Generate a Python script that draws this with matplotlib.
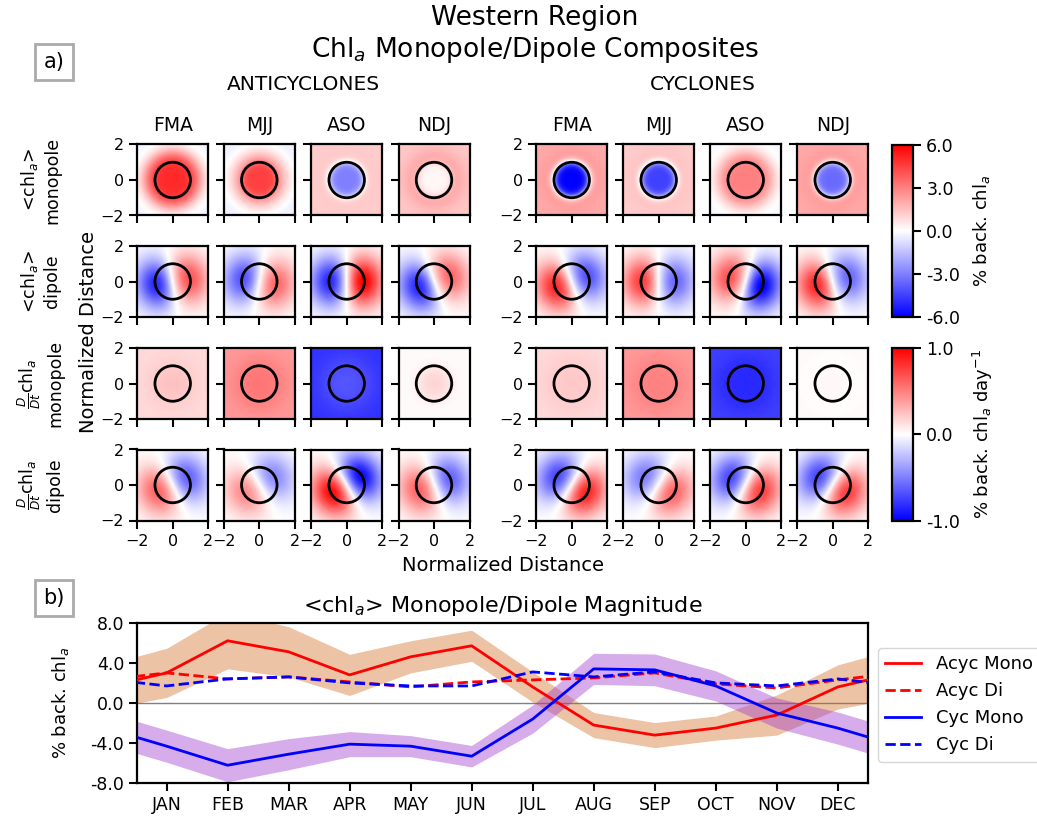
import numpy as np
import matplotlib
matplotlib.use("Agg")
import matplotlib.pyplot as plt
from matplotlib.cm import ScalarMappable
from matplotlib.colors import Normalize

W, H = 1037, 821

SEASONS = ["FMA", "MJJ", "ASO", "NDJ"]
GROUPS = ["ANTICYCLONES", "CYCLONES"]

# <chl_a> monopole: value inside eddy, just outside, far corners  [anticyclones, cyclones]
CHL_MONO_IN = [[5.0, 4.5, -3.0, 0.2], [-6.0, -4.5, 3.0, -3.5]]
CHL_MONO_OUT = [[4.0, 2.0, 1.3, 2.2], [2.5, 1.5, 2.5, 2.5]]
CHL_MONO_CORNER = [[-0.3, -0.4, 1.2, 1.3], [2.0, 1.2, -0.2, 2.0]]

# <chl_a> dipole: positive lobe, negative lobe, direction of positive lobe (deg)
CHL_DI_POS = [[4.0, 3.5, 6.0, 3.5], [5.0, 4.5, 4.0, 5.0]]
CHL_DI_NEG = [[-5.0, -4.0, -5.0, -5.0], [-4.0, -3.5, -6.0, -3.5]]
CHL_DI_ANGLE = [[10, -10, 0, 20], [200, 180, 165, 195]]

# D/Dt chl_a monopole
DDT_MONO_IN = [[0.25, 0.55, -0.65, 0.18], [0.22, 0.5, -0.85, 0.03]]
DDT_MONO_OUT = [[0.15, 0.45, -0.75, -0.03], [0.18, 0.45, -0.8, 0.0]]
DDT_MONO_CORNER = [[0.15, 0.4, -0.8, 0.02], [0.15, 0.4, -0.75, 0.02]]

# D/Dt chl_a dipole
DDT_DI_POS = [[0.6, 0.45, 0.95, 0.6], [0.85, 0.6, 0.75, 0.75]]
DDT_DI_NEG = [[-0.6, -0.45, -0.95, -0.6], [-0.7, -0.5, -0.7, -0.7]]
DDT_DI_ANGLE = [[205, 210, 210, 200], [-30, -30, -25, -30]]

ROW_LABELS = [
    "<chl$_a$>\nmonopole",
    "<chl$_a$>\ndipole",
    r"$\frac{D}{Dt}$chl$_a$" + "\nmonopole",
    r"$\frac{D}{Dt}$chl$_a$" + "\ndipole",
]

MONTHS = ["JAN", "FEB", "MAR", "APR", "MAY", "JUN",
          "JUL", "AUG", "SEP", "OCT", "NOV", "DEC"]
ACYC_MONO = [3.0, 6.2, 5.1, 2.8, 4.6, 5.7, 1.6, -2.2, -3.2, -2.5, -1.2, 1.6]
ACYC_MONO_ERR = [2.45, 2.8, 2.5, 2.05, 1.6, 1.55, 1.5, 1.25, 1.25, 1.2, 2.0, 2.2]
ACYC_DI = [3.0, 2.4, 2.6, 2.1, 1.6, 2.1, 2.3, 2.5, 3.0, 1.9, 1.5, 2.3]
CYC_MONO = [-4.3, -6.2, -5.1, -4.1, -4.3, -5.3, -1.6, 3.4, 3.3, 1.7, -1.0, -2.5]
CYC_MONO_ERR = [1.6, 1.65, 1.55, 1.25, 1.05, 1.07, 1.4, 1.55, 1.58, 1.5, 1.5, 1.6]
CYC_DI = [1.7, 2.4, 2.6, 2.0, 1.7, 1.7, 3.1, 2.6, 3.1, 2.0, 1.7, 2.4]

plt.rcParams.update({
    "font.family": "DejaVu Sans",
    "font.size": 12,
    "axes.linewidth": 1.6,
    "xtick.major.size": 6,
    "ytick.major.size": 6,
    "xtick.major.width": 1.5,
    "ytick.major.width": 1.5,
})

grid = np.linspace(-2, 2, 41)
gx, gy = np.meshgrid(grid, grid)
rr = np.hypot(gx, gy)
tt = np.arctan2(gy, gx)


def monopole(inner, outer, corner, edge):
    s = 1.0 / (1.0 + np.exp((rr - 1.0) / edge))
    ring = np.exp(-((rr - 1.0) / 0.8) ** 2)
    return inner * s + (1 - s) * (outer * ring + corner * (1 - ring))


def dipole(pos, neg, angle):
    g = rr * np.exp((1 - rr ** 2) / 2)
    c = np.cos(tt - np.deg2rad(angle))
    return g * c * np.where(c > 0, pos, -neg)


def px_axes(fig, x0, y0, w, h):
    return fig.add_axes([x0 / W, 1 - (y0 + h) / H, w / W, h / H])


fig = plt.figure(figsize=(W / 100, H / 100), dpi=100)

col_left = [[137.2, 223.8, 311.2, 398.5], [536.2, 623.2, 710.2, 797.2]]
row_top = [144.5, 246.0, 348.0, 449.5]
size = 71

for g in range(2):
    for c in range(4):
        fields = [
            (monopole(CHL_MONO_IN[g][c], CHL_MONO_OUT[g][c], CHL_MONO_CORNER[g][c], 0.12), 6),
            (dipole(CHL_DI_POS[g][c], CHL_DI_NEG[g][c], CHL_DI_ANGLE[g][c]), 6),
            (monopole(DDT_MONO_IN[g][c], DDT_MONO_OUT[g][c], DDT_MONO_CORNER[g][c], 0.35), 1),
            (dipole(DDT_DI_POS[g][c], DDT_DI_NEG[g][c], DDT_DI_ANGLE[g][c]), 1),
        ]
        for r, (field, lim) in enumerate(fields):
            ax = px_axes(fig, col_left[g][c], row_top[r], size, size)
            ax.imshow(field, origin="lower", extent=[-2, 2, -2, 2], cmap="bwr",
                      vmin=-lim, vmax=lim, interpolation="bilinear")
            ax.add_patch(plt.Circle((0, 0), 1, fill=False, color="black", lw=2))
            ax.set_xlim(-2, 2)
            ax.set_ylim(-2, 2)
            ax.set_xticks([-2, 0, 2])
            ax.set_yticks([-2, 0, 2])
            ax.tick_params(labelsize=11.5)
            if r < 3:
                ax.set_xticklabels([])
            if c > 0:
                ax.set_yticklabels([])
            if r == 0:
                ax.set_title(SEASONS[c], fontsize=13.5, pad=10)

for r in range(4):
    fig.text(40 / W, 1 - (row_top[r] + size / 2) / H, ROW_LABELS[r], rotation=90,
             ha="center", va="center", fontsize=12.5, multialignment="center")

fig.text(303.5 / W, 1 - 85 / H, GROUPS[0], ha="center", va="center", fontsize=14.5)
fig.text(702.5 / W, 1 - 85 / H, GROUPS[1], ha="center", va="center", fontsize=14.5)
fig.text(535 / W, 1 - 35 / H, "Western Region\nChl$_a$ Monopole/Dipole Composites",
         ha="center", va="center", fontsize=19, linespacing=1.2)
fig.text(89 / W, 1 - 332 / H, "Normalized Distance", rotation=90, ha="center",
         va="center", fontsize=14)
fig.text(503 / W, 1 - 565 / H, "Normalized Distance", ha="center", va="center",
         fontsize=14)

for top, lim, label in [(144.5, 6, "% back. chl$_a$"),
                        (348.0, 1, "% back. chl$_a$ day$^{-1}$")]:
    cax = px_axes(fig, 892, top, 21, 172.5)
    cb = fig.colorbar(ScalarMappable(Normalize(-lim, lim), cmap="bwr"), cax=cax)
    ticks = np.linspace(-lim, lim, 5) if lim == 6 else np.array([-1.0, 0.0, 1.0])
    cb.set_ticks(ticks)
    cb.set_ticklabels([f"{t:.1f}" for t in ticks])
    cb.outline.set_linewidth(1.6)
    cax.tick_params(labelsize=12.5)
    cb.set_label(label, fontsize=13, labelpad=8)

box = dict(boxstyle="square,pad=0.4", fc="white", ec="#aaaaaa", lw=2)
fig.text(54 / W, 1 - 62 / H, "a)", ha="center", va="center", fontsize=15, bbox=box)
fig.text(54 / W, 1 - 598 / H, "b)", ha="center", va="center", fontsize=15, bbox=box)

# bottom panel: cyclic months, padded one month either side
ax = px_axes(fig, 137.3, 622.7, 731, 160.6)
x = np.arange(-1, 13)


def wrap(v):
    v = np.asarray(v, dtype=float)
    return np.r_[v[-1], v, v[0]]


am, ae = wrap(ACYC_MONO), wrap(ACYC_MONO_ERR)
cm, ce = wrap(CYC_MONO), wrap(CYC_MONO_ERR)
ax.axhline(0, color="grey", lw=1, zorder=1)
ax.fill_between(x, am - ae, am + ae, color="chocolate", alpha=0.4, lw=0, zorder=2)
ax.fill_between(x, cm - ce, cm + ce, color="darkorchid", alpha=0.4, lw=0, zorder=2)
ax.plot(x, am, color="red", lw=2, label="Acyc Mono", zorder=3)
ax.plot(x, wrap(ACYC_DI), color="red", lw=2, ls="--", label="Acyc Di", zorder=3)
ax.plot(x, cm, color="blue", lw=2, label="Cyc Mono", zorder=3)
ax.plot(x, wrap(CYC_DI), color="blue", lw=2, ls="--", label="Cyc Di", zorder=3)
ax.set_xlim(-0.48, 11.5)
ax.set_ylim(-8, 8)
ax.set_xticks(range(12))
ax.set_xticklabels(MONTHS)
yt = [-8.0, -4.0, 0.0, 4.0, 8.0]
ax.set_yticks(yt)
ax.set_yticklabels([f"{t:.1f}" for t in yt])
ax.tick_params(labelsize=12.5)
ax.set_ylabel("% back. chl$_a$", fontsize=13, labelpad=14)
ax.set_title("<chl$_a$> Monopole/Dipole Magnitude", fontsize=16, pad=8)
ax.legend(loc="upper left", bbox_to_anchor=(878 / W, 1 - 648 / H),
          bbox_transform=fig.transFigure, borderaxespad=0, fontsize=13)

fig.savefig("out.png", dpi=100)
